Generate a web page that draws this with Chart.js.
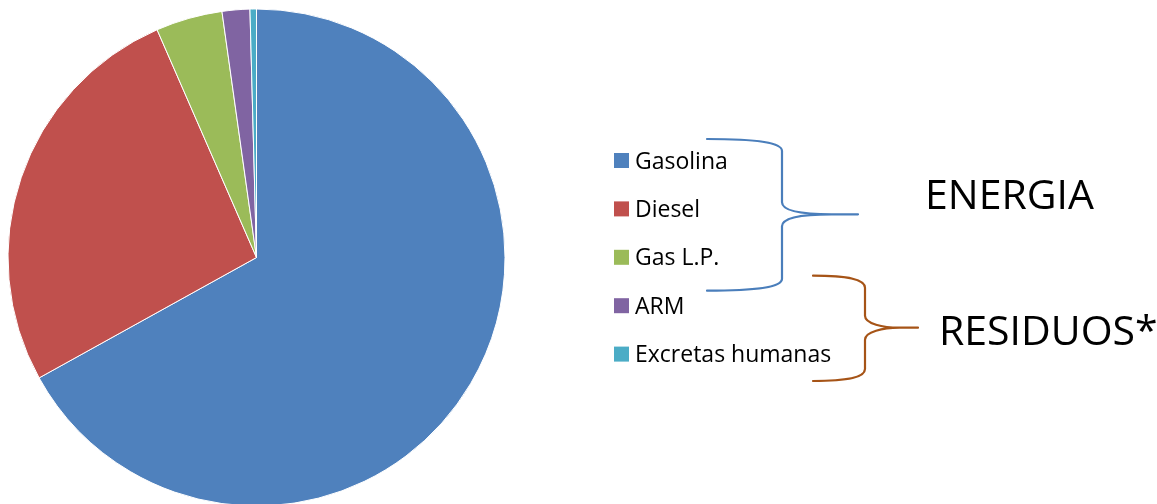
<!DOCTYPE html>
<html>
<head>
<meta charset="utf-8">
<script src="https://cdn.jsdelivr.net/npm/chart.js@4.4.1/dist/chart.umd.min.js"></script>
<style>
  html, body { margin: 0; padding: 0; background: #ffffff; }
  #wrap { position: relative; width: 1157px; height: 504px; }
</style>
</head>
<body>
<div id="wrap"><canvas id="c" width="1157" height="504"></canvas></div>
<script>
const categories = ['Gasolina', 'Diesel', 'Gas L.P.', 'ARM', 'Excretas humanas'];
const values = [66.95, 26.5, 4.33, 1.8, 0.42];
const colors = ['#4F81BD', '#C0504D', '#9BBB59', '#8064A2', '#4BACC6'];
const groupLabels = ['ENERGIA', 'RESIDUOS*'];

const FONT = '"Open Sans", "Liberation Sans", sans-serif';

const overlay = {
  id: 'overlay',
  afterDraw(chart) {
    const ctx = chart.ctx;
    ctx.save();
    // legend
    const labels = chart.data.labels;
    const bg = chart.data.datasets[0].backgroundColor;
    ctx.font = '23px ' + FONT;
    ctx.fillStyle = '#000000';
    ctx.textBaseline = 'alphabetic';
    labels.forEach((lab, i) => {
      const cy = 160.5 + i * 48.4;
      ctx.fillStyle = bg[i];
      ctx.fillRect(614, cy - 7.5, 15, 15);
      ctx.fillStyle = '#000000';
      ctx.fillText(lab, 635, cy + 8);
    });

    // braces
    ctx.lineWidth = 2.2;
    ctx.lineJoin = 'round';
    ctx.lineCap = 'round';
    function brace(x0, xv, xt, yTop, yTip, yBot, color) {
      ctx.strokeStyle = color;
      ctx.beginPath();
      ctx.moveTo(x0, yTop);
      ctx.bezierCurveTo(x0 + (xv - x0) * 0.7, yTop, xv, yTop + 4, xv, yTop + 12);
      ctx.lineTo(xv, yTip - 12);
      ctx.bezierCurveTo(xv, yTip - 4, xv + 18, yTip, xt - (xt - xv) * 0.35, yTip);
      ctx.lineTo(xt, yTip);
      ctx.moveTo(xt - (xt - xv) * 0.35, yTip);
      ctx.bezierCurveTo(xv + 18, yTip, xv, yTip + 4, xv, yTip + 12);
      ctx.lineTo(xv, yBot - 12);
      ctx.bezierCurveTo(xv, yBot - 4, x0 + (xv - x0) * 0.7, yBot, x0, yBot);
      ctx.stroke();
    }
    brace(707, 782, 858, 139, 214.3, 290.7, '#4A7EBB');
    brace(813, 865, 918, 275.7, 327.7, 381, '#A65417');

    // group labels
    ctx.fillStyle = '#000000';
    ctx.font = '41px ' + FONT;
    ctx.fillText(groupLabels[0], 925, 209);
    ctx.fillText(groupLabels[1], 939, 345);
    ctx.restore();
  }
};

new Chart(document.getElementById('c'), {
  type: 'pie',
  data: {
    labels: categories,
    datasets: [{
      data: values,
      backgroundColor: colors,
      borderColor: '#ffffff',
      borderWidth: 1,
      clip: false
    }]
  },
  options: {
    responsive: false,
    animation: false,
    radius: 248.5,
    layout: { padding: { left: 0, top: 11, right: 644, bottom: 0 } },
    plugins: {
      legend: { display: false },
      tooltip: { enabled: false }
    }
  },
  plugins: [overlay]
});
</script>
</body>
</html>
